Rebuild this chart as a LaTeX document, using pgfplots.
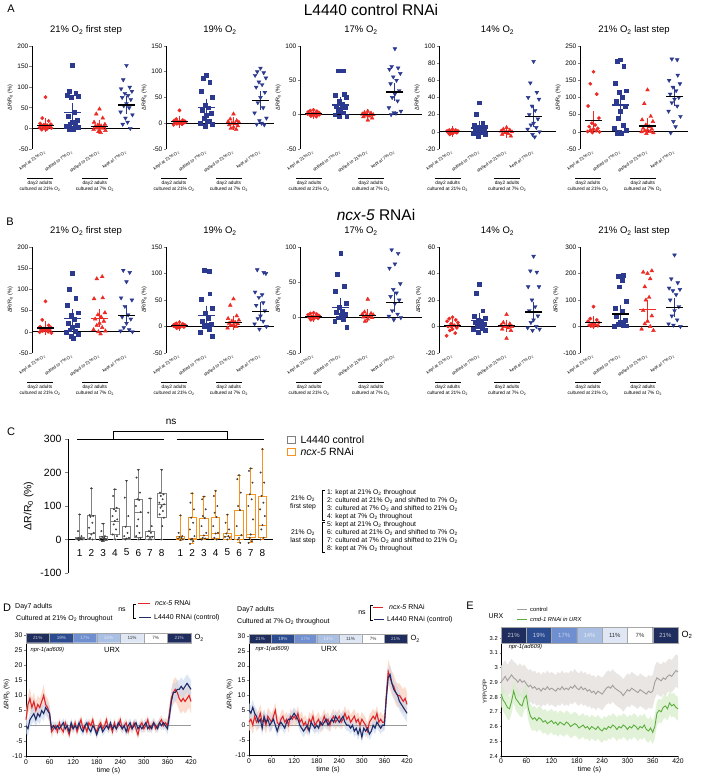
\documentclass[border=0pt]{standalone}
\usepackage{fontspec}
\setmainfont{Liberation Sans}
\usepackage{pgfplots}
\pgfplotsset{compat=1.18}
\usepackage{pgfplotstable}
\usepgfplotslibrary{statistics}

\definecolor{cr}{HTML}{EE2A24}
\definecolor{cb}{HTML}{2B3A8F}
\definecolor{crt}{HTML}{E0242B}
\definecolor{cbt}{HTML}{1E2B66}
\definecolor{bandr}{HTML}{FAD3C2}
\definecolor{bandb}{HTML}{C7D6EE}
\definecolor{cgray}{HTML}{808080}
\definecolor{corg}{HTML}{F7941D}
\definecolor{eg}{HTML}{A29E9E}
\definecolor{egb}{HTML}{E8E3E1}
\definecolor{gr}{HTML}{5BAE3E}
\definecolor{grb}{HTML}{D8EDCB}
\definecolor{oa}{HTML}{1F2D5E}
\definecolor{ob}{HTML}{2C4C92}
\definecolor{oc}{HTML}{6F8FD0}
\definecolor{od}{HTML}{AABFE4}
\definecolor{oe}{HTML}{DFE7F5}

\tikzset{ul/.style={anchor=north, yshift=-29pt, align=center, inner sep=0pt,
    font=\fontsize{4.8}{5.8}\selectfont}}

\pgfplotsset{
  every axis/.append style={/pgf/number format/assume math mode=true},
  sp/.style={scale only axis, xmin=0.5,
    axis y line*=left, axis x line*=bottom, x axis line style={draw=none},
    y axis line style={line width=0.7pt},
    xtick={1,2,3,4},
    xticklabels={kept at 21\% O\textsubscript{2},shifted to 7\% O\textsubscript{2},shifted to 21\% O\textsubscript{2},kept at 7\% O\textsubscript{2}},
    xticklabel style={rotate=35, anchor=east, font=\fontsize{4.4}{5}\selectfont, inner sep=0.5pt},
    xtick style={draw=none}, tick align=outside, major tick length=2.5pt,
    ytick style={line width=0.6pt},
    yticklabel style={font=\fontsize{6.5}{7}\selectfont, inner sep=1pt},
    ylabel={ΔR/R\textsubscript{0} (\%)},
    ylabel style={font=\fontsize{5.5}{6}\selectfont, inner sep=1pt},
    title style={font=\fontsize{9.5}{11}\selectfont, yshift=2pt},
    clip=false,
    extra y ticks={0}, extra y tick labels={},
    extra y tick style={grid=major, major grid style={black, line width=0.9pt}, major tick length=0pt}},
  g1/.style={only marks, mark=*, mark size=1.7pt, color=cr},
  g2/.style={only marks, mark=square*, mark size=1.9pt, color=cb},
  g3/.style={only marks, mark=triangle*, mark size=2.2pt, color=cr},
  g4/.style={only marks, mark=triangle*, mark size=2.2pt, mark options={rotate=180}, color=cb},
  dax/.style={scale only axis, axis lines*=left, tick align=outside, major tick length=2pt,
    xmin=0, xmax=420, xtick={0,60,...,420},
    tick label style={font=\fontsize{6.8}{8}\selectfont, inner sep=1.5pt},
    xlabel={time (s)}, xlabel style={font=\fontsize{7}{8}\selectfont, inner sep=1pt},
    ylabel style={font=\fontsize{6.5}{7}\selectfont, inner sep=1pt},
    axis line style={line width=0.5pt}, clip=false},
}

% group labels under a scatter panel
\newcommand\under{%
  \node[ul] at (rel axis cs:0.074,0) {\rule{26pt}{0.5pt}\\day2 adults\\cultured at 21\% O\textsubscript{2}};
  \node[ul] at (rel axis cs:0.582,0) {\rule{26pt}{0.5pt}\\day2 adults\\cultured at 7\% O\textsubscript{2}};}

% mean and SEM: x, mean, sem, sem colour, mean colour
\newcommand\ms[5]{\addplot[forget plot, only marks, mark=-, mark size=8.5pt,
  mark options={line width=1.2pt, draw=#5},
  error bars/.cd, y dir=both, y explicit,
  error bar style={line width=0.9pt, draw=#4},
  error mark options={mark size=5pt, line width=0.9pt, draw=#4}]
  coordinates {(#1,#2) +- (0,#3)};}

% shaded band: table, mean column, sem column, colour, opacity
\newcommand\band[5]{%
  \addplot[draw=none, stack plots=y, forget plot] table[x=t, y expr=\thisrow{#2}-\thisrow{#3}] {#1};
  \addplot[draw=none, fill=#4, fill opacity=#5, stack plots=y, forget plot] table[x=t, y expr=2*\thisrow{#3}] {#1} \closedcycle;
  \addplot[draw=none, stack plots=y, forget plot] table[x=t, y expr=-\thisrow{#2}-\thisrow{#3}] {#1};}

% O2 protocol bar: ylo, yhi, ymid, font size, O2 font size
\newcommand\otwo[5]{%
  \addplot[forget plot, fill=oa, draw=black!35, line width=0.3pt] coordinates {(0,#1)(60,#1)(60,#2)(0,#2)(0,#1)};
  \addplot[forget plot, fill=ob, draw=black!35, line width=0.3pt] coordinates {(60,#1)(120,#1)(120,#2)(60,#2)(60,#1)};
  \addplot[forget plot, fill=oc, draw=black!35, line width=0.3pt] coordinates {(120,#1)(180,#1)(180,#2)(120,#2)(120,#1)};
  \addplot[forget plot, fill=od, draw=black!35, line width=0.3pt] coordinates {(180,#1)(240,#1)(240,#2)(180,#2)(180,#1)};
  \addplot[forget plot, fill=oe, draw=black!35, line width=0.3pt] coordinates {(240,#1)(300,#1)(300,#2)(240,#2)(240,#1)};
  \addplot[forget plot, fill=white, draw=black!35, line width=0.3pt] coordinates {(300,#1)(360,#1)(360,#2)(300,#2)(300,#1)};
  \addplot[forget plot, fill=oa, draw=black!35, line width=0.3pt] coordinates {(360,#1)(420,#1)(420,#2)(360,#2)(360,#1)};
  \node[font=\fontsize{#4}{#4}\selectfont, text=white!75!oa] at (axis cs:30,#3) {21\%};
  \node[font=\fontsize{#4}{#4}\selectfont, text=white!75!ob] at (axis cs:90,#3) {19\%};
  \node[font=\fontsize{#4}{#4}\selectfont, text=white!60!oc] at (axis cs:150,#3) {17\%};
  \node[font=\fontsize{#4}{#4}\selectfont, text=white!70!od] at (axis cs:210,#3) {14\%};
  \node[font=\fontsize{#4}{#4}\selectfont, text=black!80] at (axis cs:270,#3) {11\%};
  \node[font=\fontsize{#4}{#4}\selectfont, text=black!80] at (axis cs:330,#3) {7\%};
  \node[font=\fontsize{#4}{#4}\selectfont, text=white!75!oa] at (axis cs:390,#3) {21\%};
  \node[font=\fontsize{#5}{#5}\selectfont, anchor=west] at (axis cs:420,#3) {O\textsubscript{2}};
}

\pgfplotstableread{
t r rs b bs
0 2 3 0 2.5
5 7 3 -1 2.5
10 9 3.5 2 2.5
15 6 3 3 2.5
20 8 3 4 2.5
25 5 3 2 2.5
30 7 3 4 2.5
35 6 3 3 2.5
40 8 3 5 2.5
45 10 3.5 4 2.5
50 7 3 6 2.5
55 6 3 5 2.5
60 4 3 4 2.5
65 -2 2 -1 2
70 -1 1.5 0 1.5
75 0 1.5 -1 1.5
80 -2 1.5 0 1.5
85 1 1.5 -1 1.5
90 -1 1.5 0 1.5
95 -2 1.5 1 1.5
100 1 1.5 -1 1.5
105 -1 1.5 0 1.5
110 -3 1.5 -2 1.5
115 0 1.5 1 1.5
120 -1 1.5 -1 1.5
125 1 1.5 0 1.5
130 -2 1.5 -1 1.5
135 0 1.5 1 1.5
140 2 1.5 -1 1.5
145 -1 1.5 -2 1.5
150 0 1.5 0 1.5
155 -2 1.5 1 1.5
160 1 1.5 -1 1.5
165 0 1.5 -2 1.5
170 2 1.5 0 1.5
175 -1 1.5 -1 1.5
180 -2 1.5 -3 1.5
185 0 1.5 -1 1.5
190 1 1.5 0 1.5
195 -1 1.5 -2 1.5
200 0 1.5 -1 1.5
205 2 1.5 0 1.5
210 -1 1.5 -1 1.5
215 0 1.5 1 1.5
220 -2 1.5 -1 1.5
225 1 1.5 0 1.5
230 -1 1.5 -1 1.5
235 0 1.5 1 1.5
240 2 1.5 0 1.5
245 -1 1.5 -1 1.5
250 0 1.5 0 1.5
255 1 1.5 -2 1.5
260 -2 1.5 0 1.5
265 0 1.5 1 1.5
270 -1 1.5 -1 1.5
275 1 1.5 0 1.5
280 -1 1.5 1 1.5
285 -3 1.5 -1 1.5
290 0 1.5 0 1.5
295 1 1.5 -1 1.5
300 -1 1.5 0 1.5
305 0 1.5 1 1.5
310 2 1.5 -1 1.5
315 -1 1.5 0 1.5
320 0 1.5 -1 1.5
325 1 1.5 1 1.5
330 -1 1.5 0 1.5
335 0 1.5 -1 1.5
340 1 1.5 1 1.5
345 2 1.5 0 1.5
350 0 1.5 1 1.5
355 1 1.5 0 1.5
360 0 2 -1 2
365 4 3 3 3
370 9 3.5 8 3
375 11 4 11 3
380 12 4 11 3
385 11 4 12 3
390 9 4 12 3
395 8 4 13 3
400 9 4 12 3
405 8 4 13 3
410 9 4 14 3
415 10 4 13 3
420 8 4 12 3
}\dOne

\pgfplotstableread{
t r rs b bs
0 1 3 5 2.5
5 2 3 4 2.5
10 0 3 6 2.5
15 3 3 4 2.5
20 1 3 3 2.5
25 2 3 1 2.5
30 4 3 2 2.5
35 1 3 -1 2.5
40 2 3 3 2.5
45 0 3 1 2.5
50 3 3 2 2.5
55 2 3 0 2.5
60 1 3 1 2.5
65 3 2.5 2 2
70 5 2.5 0 2
75 1 2.5 -2 2
80 0 2.5 0 2
85 2 2.5 1 2
90 3 2.5 0 2
95 1 2.5 -1 2
100 2 2.5 1 2
105 0 2.5 2 2
110 3 2.5 2 2
115 2 2.5 3 2
120 3 2.5 4 2
125 2 2.5 3 2
130 4 2.5 2 2
135 1 2.5 0 2
140 2 2.5 -1 2
145 0 2.5 -2 2
150 1 2.5 -1 2
155 -1 2.5 0 2
160 2 2.5 -2 2
165 1 2.5 1 2
170 3 2.5 0 2
175 0 2.5 -1 2
180 1 2.5 0 2
185 2 2.5 -1 2
190 0 2.5 1 2
195 1 2.5 0 2
200 3 2.5 1 2
205 1 2.5 2 2
210 2 2.5 0 2
215 0 2.5 1 2
220 2 2.5 2 2
225 3 2.5 1 2
230 1 2.5 3 2
235 2 2.5 2 2
240 3 2.5 1 2
245 1 2.5 2 2
250 2 2.5 3 2
255 4 2.5 1 2
260 2 2.5 0 2
265 3 2.5 0 2
270 1 2.5 -1 2
275 2 2.5 0 2
280 3 2.5 -2 2
285 1 2.5 -1 2
290 2 2.5 -3 2
295 0 2.5 -1 2
300 2 2.5 -4 2
305 1 2.5 -1 2
310 0 2.5 -2 2
315 -2 2.5 -1 2
320 1 2.5 -3 2
325 2 2.5 -2 2
330 3 2.5 0 2
335 2 2.5 -1 2
340 4 2.5 1 2
345 1 2.5 0 2
350 2 2.5 -1 2
355 1 2.5 0 2
360 1 2.5 0 2
365 10 4 9 3
370 18 4 16 3
375 16 4 17 3
380 14 4 14 3
385 13 4 12 3
390 11 4 11 3
395 10 4 10 3
400 10 4 8 3
405 9 4 7 3
410 8 4 6 3
415 9 4 5 3
420 7 4 4 3
}\dTwo

\pgfplotstableread{
t g gs c cs
0 2.90 .11 2.82 .08
5 2.92 .11 2.78 .08
10 2.94 .11 2.76 .08
15 2.91 .11 2.73 .08
20 2.93 .11 2.72 .08
25 2.95 .11 2.77 .08
30 2.93 .11 2.84 .08
35 2.92 .11 2.79 .08
40 2.90 .11 2.77 .08
45 2.92 .11 2.75 .08
50 2.90 .11 2.74 .08
55 2.91 .11 2.79 .08
60 2.89 .11 2.81 .08
65 2.87 .11 2.72 .08
70 2.88 .11 2.67 .08
75 2.86 .11 2.65 .08
80 2.87 .11 2.66 .08
85 2.85 .11 2.64 .08
90 2.86 .11 2.66 .08
95 2.84 .11 2.65 .08
100 2.86 .11 2.63 .08
105 2.85 .11 2.64 .08
110 2.87 .11 2.62 .08
115 2.85 .11 2.63 .08
120 2.86 .11 2.64 .08
125 2.85 .11 2.62 .08
130 2.84 .11 2.63 .08
135 2.86 .11 2.61 .08
140 2.85 .11 2.63 .08
145 2.87 .11 2.62 .08
150 2.85 .11 2.61 .08
155 2.86 .11 2.63 .08
160 2.85 .11 2.62 .08
165 2.87 .11 2.60 .08
170 2.86 .11 2.61 .08
175 2.88 .11 2.62 .08
180 2.86 .11 2.61 .08
185 2.85 .11 2.59 .08
190 2.87 .11 2.60 .08
195 2.85 .11 2.61 .08
200 2.86 .11 2.59 .08
205 2.84 .11 2.60 .08
210 2.85 .11 2.58 .08
215 2.83 .11 2.60 .08
220 2.84 .11 2.59 .08
225 2.82 .11 2.58 .08
230 2.84 .11 2.60 .08
235 2.83 .11 2.58 .08
240 2.82 .11 2.57 .08
245 2.84 .11 2.59 .08
250 2.86 .11 2.58 .08
255 2.87 .11 2.60 .08
260 2.86 .11 2.59 .08
265 2.88 .11 2.61 .08
270 2.86 .11 2.60 .08
275 2.85 .11 2.58 .08
280 2.84 .11 2.60 .08
285 2.83 .11 2.59 .08
290 2.81 .11 2.61 .08
295 2.83 .11 2.60 .08
300 2.85 .11 2.58 .08
305 2.84 .11 2.60 .08
310 2.86 .11 2.59 .08
315 2.85 .11 2.61 .08
320 2.84 .11 2.60 .08
325 2.83 .11 2.58 .08
330 2.85 .11 2.60 .08
335 2.84 .11 2.59 .08
340 2.83 .11 2.61 .08
345 2.82 .11 2.58 .08
350 2.84 .11 2.57 .08
355 2.83 .11 2.59 .08
360 2.84 .11 2.56 .08
365 2.90 .11 2.60 .08
370 2.93 .11 2.69 .08
375 2.92 .11 2.71 .08
380 2.91 .11 2.70 .08
385 2.93 .11 2.73 .08
390 2.92 .11 2.74 .08
395 2.94 .11 2.72 .08
400 2.95 .11 2.76 .08
405 2.94 .11 2.74 .08
410 2.96 .11 2.75 .08
415 2.98 .11 2.73 .08
420 2.97 .11 2.72 .08
}\dE

\begin{document}
\begin{tikzpicture}[x=1pt,y=1pt]
\path[use as bounding box] (0pt,0pt) rectangle (702pt,-783pt);

% ---------------- row A ----------------
\node[font=\fontsize{11}{12}\selectfont] at (11,-9) {A};
\node[font=\fontsize{15.5}{17}\selectfont] at (371,-10) {L4440 control RNAi};

\begin{axis}[sp, at={(32pt,-149pt)}, anchor=south west, width=108pt, height=103pt, xmax=4.5,
  ymin=-50, ymax=200, ytick={-50,0,...,200}, title={21\% O\textsubscript{2} first step}]
\addplot[g1] coordinates {(1,76)(.88,25)(1.12,18)(.8,12)(1.2,10)(.94,9)(1.06,8)(.84,7)(1.16,6)(1,5)(.9,4)(1.1,3)(.78,2)(1.22,1)(.96,0)(1.04,-2)(.86,-3)};
\addplot[g2] coordinates {(2,153)(1.88,90)(2.12,86)(1.8,80)(2.2,78)(1.94,75)(2.06,40)(1.84,30)(2.16,20)(2,15)(1.9,10)(2.1,8)(1.78,5)(2.22,3)(1.96,0)(2.04,-2)(1.86,-3)};
\addplot[g3] coordinates {(3,47)(2.88,35)(3.12,25)(2.8,15)(3.2,10)(2.94,8)(3.06,6)(2.84,5)(3.16,4)(3,2)(2.9,1)(3.1,0)(2.78,-3)(3.22,-5)(2.96,-8)(3.04,-10)};
\addplot[g4] coordinates {(4,153)(3.88,118)(4.12,100)(3.8,96)(4.2,90)(3.94,85)(4.06,80)(3.84,75)(4.16,70)(4,60)(3.9,55)(4.1,50)(3.78,40)(4.22,33)(3.96,25)(4.04,15)(3.86,10)(4.14,0)};
\ms{1}{8}{4}{cr}{black}
\ms{2}{38}{11}{cb}{cb}
\ms{3}{5}{3}{cr}{black}
\ms{4}{57}{9}{cb}{black}
\under
\end{axis}

\begin{axis}[sp, at={(166pt,-149pt)}, anchor=south west, width=108pt, height=103pt, xmax=4.5,
  ymin=-50, ymax=150, ytick={-50,0,...,150}, title={19\% O\textsubscript{2}}]
\addplot[g1] coordinates {(1,25)(.88,8)(1.12,6)(.8,5)(1.2,4)(.94,3)(1.06,3)(.84,2)(1.16,1)(1,0)(.9,-1)(1.1,-2)(.78,-3)(1.22,2)(.96,1)};
\addplot[g2] coordinates {(2,93)(1.88,88)(2.12,80)(1.8,62)(2.2,50)(1.94,35)(2.06,30)(1.84,25)(2.16,20)(2,15)(1.9,10)(2.1,5)(1.78,0)(2.22,-2)(1.96,-5)(2.04,3)};
\addplot[g3] coordinates {(3,18)(2.88,8)(3.12,5)(2.8,3)(3.2,2)(2.94,0)(3.06,-1)(2.84,-3)(3.16,-5)(3,-8)(2.9,-10)(3.1,-12)};
\addplot[g4] coordinates {(4,107)(3.88,100)(4.12,98)(3.8,93)(4.2,88)(3.94,80)(4.06,75)(3.84,70)(4.16,60)(4,50)(3.9,40)(4.1,30)(3.78,20)(4.22,10)(3.96,5)(4.04,0)(3.86,-2)(4.14,-3)};
\ms{1}{3}{2}{cr}{black}
\ms{2}{30}{8}{cb}{cb}
\ms{3}{0}{2.5}{cr}{black}
\ms{4}{44}{8}{cb}{black}
\under
\end{axis}

\begin{axis}[sp, at={(300pt,-149pt)}, anchor=south west, width=122pt, height=103pt, xmax=5.0,
  ymin=-50, ymax=100, ytick={-50,0,...,100}, title={17\% O\textsubscript{2}}]
\addplot[g1] coordinates {(1,7)(.88,6)(1.12,5)(.8,4)(1.2,3)(.94,2)(1.06,2)(.84,1)(1.16,0)(1,-1)(.9,-2)(1.1,-3)(.78,1)(1.22,0)};
\addplot[g2] coordinates {(1.9,64)(2.1,64)(2.12,30)(1.8,28)(2.2,25)(1.94,20)(2.06,15)(1.84,12)(2.16,10)(2,8)(1.9,5)(2.1,3)(1.78,0)(2.22,-2)(1.96,-3)};
\addplot[g3] coordinates {(3,5)(2.88,3)(3.12,2)(2.8,1)(3.2,0)(2.94,-1)(3.06,-2)(2.84,-3)(3.16,-5)(3,-8)(2.9,0)(3.1,1)};
\addplot[g4] coordinates {(4,96)(3.88,70)(4.12,68)(3.8,66)(4.2,60)(3.94,55)(4.06,50)(3.84,45)(4.16,35)(4,30)(3.9,25)(4.1,20)(3.78,10)(4.22,5)(3.96,3)(4.04,2)(3.86,0)};
\ms{1}{1.5}{0.8}{cr}{black}
\ms{2}{14}{5}{cb}{cb}
\ms{3}{0}{1}{cr}{black}
\ms{4}{33}{6}{cb}{black}
\under
\end{axis}

\begin{axis}[sp, at={(439pt,-149pt)}, anchor=south west, width=117pt, height=103pt, xmax=4.83,
  ymin=-20, ymax=100, ytick={-20,0,...,100}, title={14\% O\textsubscript{2}}]
\addplot[g1] coordinates {(1,3)(.88,2)(1.12,2)(.8,1)(1.2,1)(.94,0)(1.06,0)(.84,-1)(1.16,-1)(1,-2)(.9,-3)(1.1,0)};
\addplot[g2] coordinates {(2,34)(1.88,21)(2.12,10)(1.8,8)(2.2,6)(1.94,5)(2.06,4)(1.84,3)(2.16,2)(2,1)(1.9,0)(2.1,-1)(1.78,-2)(2.22,-3)(1.96,-5)};
\addplot[g3] coordinates {(3,5)(2.88,3)(3.12,2)(2.8,1)(3.2,0)(2.94,-1)(3.06,-2)(2.84,-3)(3.16,-5)(3,0)};
\addplot[g4] coordinates {(4,82)(3.88,57)(4.12,46)(3.8,40)(4.2,38)(3.94,30)(4.06,25)(3.84,20)(4.16,15)(4,10)(3.9,8)(4.1,5)(3.78,3)(4.22,0)(3.96,-3)(4.04,-6)};
\ms{1}{0.5}{0.5}{cr}{black}
\ms{2}{4.5}{2.3}{cb}{cb}
\ms{3}{0}{1}{cr}{black}
\ms{4}{18}{6}{cb}{black}
\under
\end{axis}

\begin{axis}[sp, at={(580pt,-149pt)}, anchor=south west, width=108pt, height=103pt, xmax=4.5,
  ymin=-50, ymax=250, ytick={-50,0,...,250}, title={21\% O\textsubscript{2} last step}]
\addplot[g1] coordinates {(1,175)(.88,140)(1.12,110)(.8,75)(1.2,40)(.94,25)(1.06,20)(.84,15)(1.16,10)(1,8)(.9,5)(1.1,3)(.78,1)(1.22,0)(.96,-2)};
\addplot[g2] coordinates {(2,210)(1.88,205)(2.12,190)(1.8,142)(2.2,120)(1.94,115)(2.06,100)(1.84,90)(2.16,75)(2,60)(1.9,40)(2.1,20)(1.78,10)(2.22,5)(1.96,0)(2.04,-5)(1.86,-3)};
\addplot[g3] coordinates {(3,122)(2.88,82)(3.12,45)(2.8,35)(3.2,30)(2.94,20)(3.06,15)(2.84,10)(3.16,8)(3,5)(2.9,3)(3.1,1)(2.78,0)(3.22,-3)(2.96,-5)};
\addplot[g4] coordinates {(3.9,212)(4.1,210)(4.12,165)(3.8,150)(4.2,140)(3.94,130)(4.06,120)(3.84,110)(4.16,100)(4,95)(3.9,85)(4.1,75)(3.78,60)(4.22,45)(3.96,30)(4.04,15)(3.86,-3)};
\ms{1}{32}{13}{cr}{black}
\ms{2}{78}{17}{cb}{cb}
\ms{3}{17}{8}{cr}{black}
\ms{4}{104}{13}{cb}{black}
\under
\end{axis}

% ---------------- row B ----------------
\node[font=\fontsize{11}{12}\selectfont] at (10,-222) {B};
\node[font=\fontsize{15.5}{17}\selectfont] at (376,-215) {\textit{ncx-5} RNAi};

\begin{axis}[sp, at={(32pt,-353pt)}, anchor=south west, width=108pt, height=106pt, xmax=4.5,
  ymin=-50, ymax=200, ytick={-50,0,...,200}, title={21\% O\textsubscript{2} first step}]
\addplot[g1] coordinates {(1,72)(.88,28)(1.12,15)(.8,12)(1.2,10)(.94,8)(1.06,6)(.84,5)(1.16,4)(1,3)(.9,2)(1.1,0)(.78,-1)(1.22,-3)};
\addplot[g2] coordinates {(2,138)(1.88,100)(2.12,80)(1.8,62)(2.2,45)(1.94,40)(2.06,30)(1.84,20)(2.16,15)(2,10)(1.9,5)(2.1,2)(1.78,0)(2.22,-5)(1.96,-10)(2.04,-15)};
\addplot[g3] coordinates {(3.1,130)(2.9,125)(3.12,80)(2.8,78)(3.2,45)(2.94,40)(3.06,35)(2.84,30)(3.16,25)(3,20)(2.9,15)(3.1,10)(2.78,5)(3.22,2)(2.96,0)(3.04,-5)};
\addplot[g4] coordinates {(3.88,145)(4.12,140)(4,118)(3.8,80)(4.2,75)(3.94,60)(4.06,40)(3.84,35)(4.16,30)(4,20)(3.9,10)(4.1,5)(3.78,2)(4.22,0)};
\ms{1}{9}{5}{cr}{black}
\ms{2}{31}{11}{cb}{cb}
\ms{3}{32}{10}{cr}{cr}
\ms{4}{39}{11}{cb}{black}
\under
\end{axis}

\begin{axis}[sp, at={(166pt,-353pt)}, anchor=south west, width=108pt, height=106pt, xmax=4.5,
  ymin=-50, ymax=150, ytick={-50,0,...,150}, title={19\% O\textsubscript{2}}]
\addplot[g1] coordinates {(1,8)(.88,6)(1.12,5)(.8,4)(1.2,3)(.94,2)(1.06,1)(.84,0)(1.16,-1)(1,-2)(.9,-3)(1.1,2)(.78,1)};
\addplot[g2] coordinates {(1.9,106)(2.1,104)(2.12,62)(1.8,52)(2.2,35)(1.94,25)(2.06,15)(1.84,10)(2.16,5)(2,2)(1.9,0)(2.1,-5)(1.78,-10)(2.22,-18)};
\addplot[g3] coordinates {(3,52)(2.88,40)(3.12,20)(2.8,15)(3.2,12)(2.94,10)(3.06,8)(2.84,6)(3.16,5)(3,3)(2.9,2)(3.1,0)(2.78,-3)};
\addplot[g4] coordinates {(3.88,107)(4.12,102)(4.2,100)(3.8,65)(4.06,60)(3.94,55)(4.1,45)(3.84,40)(4.16,30)(4,20)(3.9,15)(4.1,10)(3.78,5)(4.22,0)(3.96,-5)};
\ms{1}{2}{1}{cr}{black}
\ms{2}{21}{9}{cb}{cb}
\ms{3}{7}{4}{cr}{black}
\ms{4}{28}{8}{cb}{black}
\under
\end{axis}

\begin{axis}[sp, at={(300pt,-353pt)}, anchor=south west, width=122pt, height=106pt, xmax=5.0,
  ymin=-50, ymax=100, ytick={-50,0,...,100}, title={17\% O\textsubscript{2}}]
\addplot[g1] coordinates {(1,7)(.88,6)(1.12,5)(.8,4)(1.2,3)(.94,2)(1.06,1)(.84,0)(1.16,-1)(1,-2)(.9,-3)(1.1,1)};
\addplot[g2] coordinates {(2,91)(1.88,62)(2.12,44)(1.8,37)(2.2,20)(1.94,15)(2.06,10)(1.84,8)(2.16,5)(2,3)(1.9,0)(2.1,-2)(1.78,-5)(2.22,-13)};
\addplot[g3] coordinates {(3,26)(2.88,8)(3.12,6)(2.8,5)(3.2,4)(2.94,3)(3.06,2)(2.84,1)(3.16,0)(3,-2)(2.9,-5)};
\addplot[g4] coordinates {(3.88,96)(4.12,91)(4,76)(3.8,70)(4.2,48)(3.94,40)(4.06,35)(3.84,30)(4.16,25)(4,20)(3.9,10)(4.1,5)(3.78,2)(4.22,0)(3.96,-3)};
\ms{1}{1.5}{0.8}{cr}{black}
\ms{2}{14}{7}{cb}{cb}
\ms{3}{3}{2}{cr}{black}
\ms{4}{22}{7}{cb}{black}
\under
\end{axis}

\begin{axis}[sp, at={(439pt,-353pt)}, anchor=south west, width=117pt, height=106pt, xmax=4.83,
  ymin=-20, ymax=60, ytick={-20,0,...,60}, title={14\% O\textsubscript{2}}]
\addplot[g1] coordinates {(1,7)(.88,6)(1.12,5)(.8,4)(1.2,3)(.94,2)(1.06,1)(.84,0)(1.16,-1)(1,-2)(.9,-3)(1.1,-5)(.78,-7)(1.22,1)(.96,0)};
\addplot[g2] coordinates {(2,32)(1.88,25)(2.12,12)(1.8,8)(2.2,6)(1.94,5)(2.06,4)(1.84,3)(2.16,2)(2,1)(1.9,0)(2.1,-1)(1.78,-2)(2.22,-3)(1.96,-4)};
\addplot[g3] coordinates {(3,9)(2.88,3)(3.12,2)(2.8,1)(3.2,0)(2.94,0)(3.06,-1)(2.84,-2)(3.16,-3)(3,-9)};
\addplot[g4] coordinates {(4,53)(3.88,42)(4.12,41)(3.8,30)(4.2,30)(3.94,20)(4.06,15)(3.84,12)(4.16,8)(4,5)(3.9,3)(4.1,0)(3.78,-1)(4.22,-2)(3.96,-3)};
\ms{1}{1}{0.8}{cr}{black}
\ms{2}{4.5}{2}{cb}{cb}
\ms{3}{0.5}{1}{cr}{black}
\ms{4}{11}{4}{cb}{black}
\under
\end{axis}

\begin{axis}[sp, at={(580pt,-353pt)}, anchor=south west, width=108pt, height=106pt, xmax=4.5,
  ymin=-100, ymax=300, ytick={-100,0,...,300}, title={21\% O\textsubscript{2} last step}]
\addplot[g1] coordinates {(1,75)(.88,30)(1.12,25)(.8,20)(1.2,15)(.94,10)(1.06,8)(.84,5)(1.16,3)(1,0)(.9,2)};
\addplot[g2] coordinates {(2.1,195)(1.9,190)(2.06,175)(1.94,150)(2.2,95)(1.8,70)(2.06,60)(1.84,40)(2.16,25)(2,15)(1.9,10)(2.1,5)(1.78,0)(2.22,3)};
\addplot[g3] coordinates {(3.16,210)(2.84,205)(3,200)(3.1,180)(2.9,150)(3.06,110)(2.94,100)(2.84,60)(3.16,40)(3,20)(2.9,10)(3.1,0)(2.78,-10)(3.22,-15)};
\addplot[g4] coordinates {(4,270)(3.88,180)(4.12,165)(3.8,145)(4.2,140)(3.94,135)(4.06,120)(3.84,100)(4.16,75)(4,60)(3.9,40)(4.1,25)(3.78,10)(4.22,0)(3.96,5)};
\ms{1}{14}{6}{cr}{black}
\ms{2}{47}{16}{cb}{black}
\ms{3}{65}{18}{cr}{cr}
\ms{4}{72}{17}{cb}{black}
\under
\end{axis}

% ---------------- panel C ----------------
\node[font=\fontsize{11}{12}\selectfont] at (11,-432) {C};
\begin{axis}[at={(68pt,-573pt)}, anchor=south west, scale only axis, width=205pt, height=134pt,
  xmin=0, xmax=17.5, ymin=-100, ymax=300, ytick={-100,0,...,300},
  axis y line*=left, axis x line=none, tick align=outside, major tick length=3pt,
  y axis line style={line width=0.7pt},
  yticklabel style={font=\fontsize{10.5}{12}\selectfont},
  ylabel={ΔR/R\textsubscript{0} (\%)}, ylabel style={font=\fontsize{10.5}{12}\selectfont},
  clip=false, boxplot/draw direction=y, boxplot/box extend=0.72, boxplot/whisker extend=0.3]
\addplot[forget plot, black, line width=0.9pt] coordinates {(0,0)(17.5,0)};
\addplot[forget plot, black, line width=0.8pt] coordinates {(0.77,298)(8.2,298)};
\addplot[forget plot, black, line width=0.8pt] coordinates {(9.3,298)(16.7,298)};
\addplot[forget plot, black, line width=0.8pt] coordinates {(3.84,298)(3.84,322)(13.6,322)(13.6,298)};
\node[font=\fontsize{10}{11}\selectfont] at (axis cs:8.8,350) {ns};
% L4440 control
\addplot[cgray, line width=0.8pt, boxplot prepared={draw position=1, lower whisker=0, lower quartile=0, median=2, upper quartile=5, upper whisker=75}] coordinates {};
\addplot[cgray, line width=0.8pt, boxplot prepared={draw position=2, lower whisker=0, lower quartile=0, median=17, upper quartile=72, upper whisker=153}] coordinates {};
\addplot[cgray, line width=0.8pt, boxplot prepared={draw position=3, lower whisker=-5, lower quartile=-3, median=3, upper quartile=8, upper whisker=47}] coordinates {};
\addplot[cgray, line width=0.8pt, boxplot prepared={draw position=4, lower whisker=0, lower quartile=14, median=55, upper quartile=92, upper whisker=150}] coordinates {};
\addplot[cgray, line width=0.8pt, boxplot prepared={draw position=5, lower whisker=0, lower quartile=0, median=3, upper quartile=38, upper whisker=175}] coordinates {};
\addplot[cgray, line width=0.8pt, boxplot prepared={draw position=6, lower whisker=0, lower quartile=5, median=82, upper quartile=120, upper whisker=208}] coordinates {};
\addplot[cgray, line width=0.8pt, boxplot prepared={draw position=7, lower whisker=0, lower quartile=0, median=8, upper quartile=25, upper whisker=123}] coordinates {};
\addplot[cgray, line width=0.8pt, boxplot prepared={draw position=8, lower whisker=0, lower quartile=65, median=104, upper quartile=138, upper whisker=208}] coordinates {};
% ncx-5 RNAi
\addplot[corg, line width=0.9pt, boxplot prepared={draw position=9.6, lower whisker=-2, lower quartile=0, median=3, upper quartile=8, upper whisker=72}] coordinates {};
\addplot[corg, line width=0.9pt, boxplot prepared={draw position=10.6, lower whisker=-13, lower quartile=0, median=2, upper quartile=65, upper whisker=138}] coordinates {};
\addplot[corg, line width=0.9pt, boxplot prepared={draw position=11.6, lower whisker=0, lower quartile=3, median=12, upper quartile=64, upper whisker=128}] coordinates {};
\addplot[corg, line width=0.9pt, boxplot prepared={draw position=12.6, lower whisker=0, lower quartile=3, median=18, upper quartile=67, upper whisker=145}] coordinates {};
\addplot[corg, line width=0.9pt, boxplot prepared={draw position=13.6, lower whisker=0, lower quartile=0, median=8, upper quartile=18, upper whisker=74}] coordinates {};
\addplot[corg, line width=0.9pt, boxplot prepared={draw position=14.6, lower whisker=-10, lower quartile=0, median=13, upper quartile=88, upper whisker=192}] coordinates {};
\addplot[corg, line width=0.9pt, boxplot prepared={draw position=15.6, lower whisker=-10, lower quartile=5, median=15, upper quartile=135, upper whisker=212}] coordinates {};
\addplot[corg, line width=0.9pt, boxplot prepared={draw position=16.6, lower whisker=0, lower quartile=5, median=43, upper quartile=130, upper whisker=270}] coordinates {};
% individual animals
\addplot[only marks, mark=*, mark size=0.75pt, color=black!75] coordinates {
(1,75)(.85,25)(1.15,10)(.92,5)(1.08,3)(.8,2)(1.2,0)(1,0)(.9,-2)(1.1,1)
(2,153)(1.85,73)(2.15,70)(1.92,68)(2.08,50)(1.8,35)(2.2,20)(2,15)(1.9,5)(2.1,0)(1.82,2)
(3,47)(2.85,25)(3.15,10)(2.92,8)(3.08,5)(2.8,3)(3.2,0)(3,-3)(2.9,-5)(3.1,2)
(4,150)(3.85,130)(4.15,95)(3.92,90)(4.08,85)(3.8,70)(4.2,60)(4,55)(3.9,45)(4.1,30)(3.82,15)(4.18,10)(4.05,0)
(5,175)(4.85,125)(5.15,70)(4.92,38)(5.08,20)(4.8,10)(5.2,5)(5,3)(4.9,0)
(6,208)(5.85,185)(6.15,140)(5.92,120)(6.08,118)(5.8,100)(6.2,82)(6,60)(5.9,40)(6.1,20)(5.82,10)(6.18,5)(6.05,0)
(7,123)(6.85,80)(7.15,40)(6.92,25)(7.08,20)(6.8,10)(7.2,8)(7,5)(6.9,0)(7.1,0)
(8,208)(7.85,140)(8.15,135)(7.92,130)(8.08,120)(7.8,110)(8.2,105)(8,100)(7.9,95)(8.1,85)(7.82,75)(8.18,65)(8.05,40)(7.95,0)
(9.6,72)(9.45,20)(9.75,10)(9.52,8)(9.68,5)(9.4,3)(9.8,0)(9.6,-2)
(10.6,138)(10.45,110)(10.75,90)(10.52,65)(10.68,50)(10.4,30)(10.8,10)(10.6,2)(10.5,0)(10.7,-5)(10.42,-13)
(11.6,128)(11.45,120)(11.75,90)(11.52,70)(11.68,64)(11.4,40)(11.8,20)(11.6,12)(11.5,5)(11.7,3)(11.42,0)
(12.6,145)(12.45,130)(12.75,100)(12.52,80)(12.68,67)(12.4,40)(12.8,20)(12.6,18)(12.5,5)(12.7,0)
(13.6,74)(13.45,50)(13.75,30)(13.52,18)(13.68,10)(13.4,8)(13.8,5)(13.6,0)
(14.6,192)(14.45,180)(14.75,140)(14.52,100)(14.68,88)(14.4,40)(14.8,13)(14.6,5)(14.5,0)(14.7,-10)
(15.6,212)(15.45,205)(15.75,170)(15.52,135)(15.68,120)(15.4,100)(15.8,60)(15.6,15)(15.5,5)(15.7,-5)(15.42,-10)
(16.6,270)(16.45,200)(16.75,170)(16.52,130)(16.68,110)(16.4,90)(16.8,70)(16.6,43)(16.5,30)(16.7,5)(16.42,0)};
\pgfplotsinvokeforeach{1,...,8}{\node[font=\fontsize{10}{11}\selectfont] at (axis cs:#1,-39) {#1};}
\node[font=\fontsize{10}{11}\selectfont] at (axis cs:9.6,-39) {1};
\node[font=\fontsize{10}{11}\selectfont] at (axis cs:10.6,-39) {2};
\node[font=\fontsize{10}{11}\selectfont] at (axis cs:11.6,-39) {3};
\node[font=\fontsize{10}{11}\selectfont] at (axis cs:12.6,-39) {4};
\node[font=\fontsize{10}{11}\selectfont] at (axis cs:13.6,-39) {5};
\node[font=\fontsize{10}{11}\selectfont] at (axis cs:14.6,-39) {6};
\node[font=\fontsize{10}{11}\selectfont] at (axis cs:15.6,-39) {7};
\node[font=\fontsize{10}{11}\selectfont] at (axis cs:16.6,-39) {8};
\end{axis}

% C legend and key
\draw[cgray, line width=0.8pt] (287,-436.5) rectangle (295,-443.5);
\draw[corg, line width=0.8pt] (287,-448.5) rectangle (295,-455.5);
\node[anchor=west, font=\fontsize{10.5}{12}\selectfont] at (297,-440) {L4440 control};
\node[anchor=west, font=\fontsize{10.5}{12}\selectfont] at (297,-452) {\textit{ncx-5} RNAi};
\begin{scope}[font=\fontsize{6.8}{7.8}\selectfont]
\node[align=center] at (303,-503) {21\% O\textsubscript{2}\\first step};
\node[align=center] at (303,-537) {21\% O\textsubscript{2}\\last step};
\draw[line width=0.6pt] (325,-490)--(322,-490)--(322,-520)--(325,-520);
\draw[line width=0.6pt] (325,-522)--(322,-522)--(322,-552)--(325,-552);
\node[anchor=west, inner sep=1pt] at (326,-493) {1: kept at 21\% O\textsubscript{2} throughout};
\node[anchor=west, inner sep=1pt] at (326,-501) {2: cultured at 21\% O\textsubscript{2} and shifted to 7\% O\textsubscript{2}};
\node[anchor=west, inner sep=1pt] at (326,-509) {3: cultured at 7\% O\textsubscript{2} and shifted to 21\% O\textsubscript{2}};
\node[anchor=west, inner sep=1pt] at (326,-517) {4: kept at 7\% O\textsubscript{2} throughout};
\node[anchor=west, inner sep=1pt] at (326,-525) {5: kept at 21\% O\textsubscript{2} throughout};
\node[anchor=west, inner sep=1pt] at (326,-533) {6: cultured at 21\% O\textsubscript{2} and shifted to 7\% O\textsubscript{2}};
\node[anchor=west, inner sep=1pt] at (326,-541) {7: cultured at 7\% O\textsubscript{2} and shifted to 21\% O\textsubscript{2}};
\node[anchor=west, inner sep=1pt] at (326,-549) {8: kept at 7\% O\textsubscript{2} throughout};
\end{scope}

% ---------------- panel D ----------------
\node[font=\fontsize{11}{12}\selectfont] at (7,-608) {D};
\begin{scope}[font=\fontsize{7}{8}\selectfont]
\node[anchor=west, inner sep=0pt] at (15,-607) {Day7 adults};
\node[anchor=west, inner sep=0pt] at (16,-619) {Cultured at 21\% O\textsubscript{2} throughout};
\node at (122,-610) {ns};
\draw[line width=0.7pt] (136,-604)--(133.5,-604)--(133.5,-618)--(136,-618);
\draw[crt, line width=0.8pt] (138,-603)--(150,-603);
\draw[cbt, line width=0.8pt] (139,-617)--(151,-617);
\node[anchor=west, inner sep=0pt] at (155,-603) {\textit{ncx-5} RNAi};
\node[anchor=west, inner sep=0pt] at (154,-617.5) {L4440 RNAi (control)};
\node[anchor=west, inner sep=0pt] at (237,-610) {Day7 adults};
\node[anchor=west, inner sep=0pt] at (237,-622) {Cultured at 7\% O\textsubscript{2} throughout};
\node at (362,-613) {ns};
\draw[line width=0.7pt] (373,-605)--(370.5,-605)--(370.5,-620)--(373,-620);
\draw[crt, line width=0.8pt] (373,-607)--(383,-607);
\draw[cbt, line width=0.8pt] (374,-619)--(384,-619);
\node[anchor=west, inner sep=0pt] at (389,-607) {\textit{ncx-5} RNAi};
\node[anchor=west, inner sep=0pt] at (387,-619.5) {L4440 RNAi (control)};
\end{scope}

\begin{axis}[dax, at={(26pt,-756pt)}, anchor=south west, width=165pt, height=123pt,
  ymin=-10, ymax=30.6, ytick={-10,-5,...,30}, ylabel={ΔR/R\textsubscript{0} (\%)}]
\band{\dOne}{r}{rs}{bandr}{0.8}
\band{\dOne}{b}{bs}{bandb}{0.6}
\addplot[black!40, line width=0.8pt] coordinates {(10,0)(420,0)};
\addplot[crt, line width=1.1pt] table[x=t, y=r] {\dOne};
\addplot[cbt, line width=1.1pt] table[x=t, y=b] {\dOne};
\otwo{27.4}{30.6}{29.0}{4.6}{7.5}
\node[anchor=west, font=\fontsize{5.8}{6}\selectfont\itshape] at (axis cs:3,25) {npr-1(ad609)};
\node[font=\fontsize{7.5}{8}\selectfont] at (axis cs:219,25) {URX};
\end{axis}

\begin{axis}[dax, at={(249pt,-755pt)}, anchor=south west, width=158pt, height=121pt,
  ymin=-10, ymax=30.6, ytick={-10,-5,...,30}, ylabel={ΔR/R\textsubscript{0} (\%)}]
\band{\dTwo}{r}{rs}{bandr}{0.8}
\band{\dTwo}{b}{bs}{bandb}{0.6}
\addplot[black!40, line width=0.8pt] coordinates {(10,0)(420,0)};
\addplot[crt, line width=1.1pt] table[x=t, y=r] {\dTwo};
\addplot[cbt, line width=1.1pt] table[x=t, y=b] {\dTwo};
\otwo{27.4}{30.6}{29.0}{4.6}{7.5}
\node[anchor=west, font=\fontsize{5.8}{6}\selectfont\itshape] at (axis cs:8,25.5) {npr-1(ad609)};
\node[font=\fontsize{7.5}{8}\selectfont] at (axis cs:213,25.5) {URX};
\end{axis}

% ---------------- panel E ----------------
\node[font=\fontsize{11}{12}\selectfont] at (470,-606) {E};
\node[font=\fontsize{7}{8}\selectfont] at (496,-616) {URX};
\draw[eg, line width=0.8pt] (517,-609)--(527,-609);
\draw[gr, line width=0.8pt] (517,-619)--(527,-619);
\node[anchor=west, inner sep=0pt, font=\fontsize{5.8}{7}\selectfont] at (530,-609) {control};
\node[anchor=west, inner sep=0pt, font=\fontsize{5.8}{7}\selectfont\itshape] at (530,-619) {cmd-1 RNAi in URX};

\begin{axis}[dax, at={(501pt,-756pt)}, anchor=south west, width=177pt, height=129pt,
  ymin=2.4, ymax=3.275, ytick={2.4,2.5,2.6,2.7,2.8,2.9,3,3.1,3.2},
  yticklabel style={font=\fontsize{5.8}{7}\selectfont},
  ylabel={YFP/CFP}, ylabel style={font=\fontsize{5.8}{7}\selectfont},
  major tick length=1.5pt]
\band{\dE}{g}{gs}{egb}{0.9}
\band{\dE}{c}{cs}{grb}{0.75}
\addplot[eg, line width=0.9pt] table[x=t, y=g] {\dE};
\addplot[gr, line width=0.9pt] table[x=t, y=c] {\dE};
\otwo{3.166}{3.275}{3.22}{6}{9}
\node[anchor=west, font=\fontsize{5.8}{6}\selectfont\itshape] at (axis cs:10,3.14) {npr-1(ad609)};
\end{axis}
\end{tikzpicture}
\end{document}
